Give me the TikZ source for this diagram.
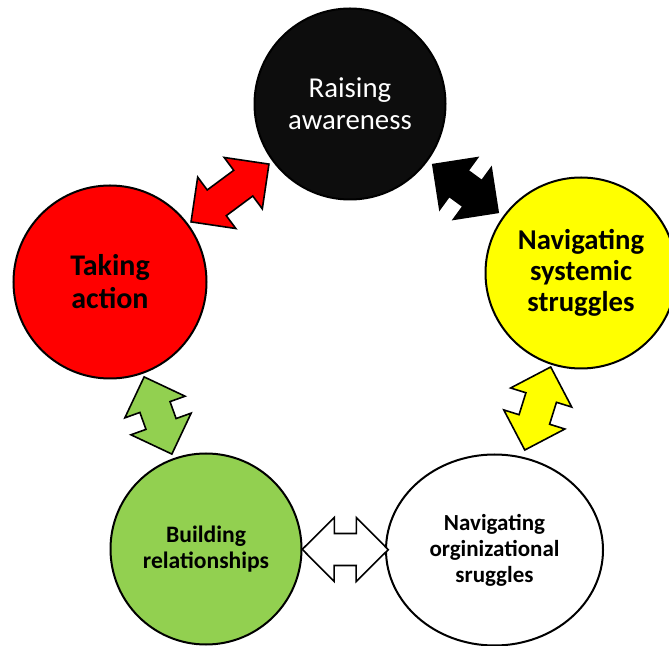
\documentclass[tikz,border=0pt]{standalone}
\usepackage{fontspec}
\setmainfont{Carlito}
\usetikzlibrary{calc,shapes.geometric}
\definecolor{awareblack}{HTML}{0D0D0D}
\definecolor{actionred}{HTML}{FF0000}
\definecolor{systemyellow}{HTML}{FFFF00}
\definecolor{relgreen}{HTML}{92D050}
\begin{document}
\begin{tikzpicture}[x=1pt,y=1pt,
  stage/.style={circle, draw=black, line width=2pt, minimum size=191pt,
    inner sep=0pt, align=center},
  arrowline/.style={draw=black, line width=1.6pt, line join=miter},
  % double-headed block arrow centred on the origin, pointing along x
  pics/dblarrow/.style 2 args={code={%
    \pgfmathsetmacro\dahalf{#1/2}%
    \pgfmathsetmacro\daneck{#1/2-32}%
    \draw[arrowline, fill=#2]
      (-\dahalf,0) -- (-\daneck,32) -- (-\daneck,16) -- (\daneck,16)
      -- (\daneck,32) -- (\dahalf,0) -- (\daneck,-32) -- (\daneck,-16)
      -- (-\daneck,-16) -- (-\daneck,-32) -- cycle;
  }}]
\useasboundingbox (0,0) rectangle (669,645);
\clip (0,0) rectangle (669,645);

% the five stages
\node[stage, fill=awareblack, text=white,
  font=\fontsize{28.8}{32}\selectfont] (aware) at (350,541) {Raising\\awareness};
\node[stage, fill=actionred, minimum size=193pt,
  font=\bfseries\fontsize{30}{33}\selectfont] (action) at (110,363) {Taking\\action};
\node[stage, fill=systemyellow,
  font=\bfseries\fontsize{28.7}{31}\selectfont] (systemic) at (581,372) {Navigating\\systemic\\struggles};
\node[stage, fill=relgreen,
  font=\bfseries\fontsize{23.6}{26}\selectfont] (relations) at (206,96) {Building\\relationships};
\node[stage, ellipse, minimum width=217pt, minimum height=191pt, fill=white,
  font=\bfseries\fontsize{23}{26}\selectfont] (orgs) at (494.5,95) {Navigating\\orginizational\\sruggles};

% links between neighbouring stages
\path let \p1=($(aware)-(action)$), \n1={atan2(\y1,\x1)} in
  ($(action)!0.5!(aware)$) pic[rotate=\n1] {dblarrow={97}{actionred}};
\path let \p1=($(systemic)-(aware)$), \n1={atan2(\y1,\x1)} in
  ($(aware)!0.5!(systemic)$) pic[rotate=\n1] {dblarrow={81}{black}};
\path let \p1=($(orgs)-(systemic)$), \n1={atan2(\y1,\x1)} in
  ($(systemic)!0.5!(orgs)+(0,3)$) pic[rotate=\n1] {dblarrow={87}{systemyellow}};
\path let \p1=($(action)-(relations)$), \n1={atan2(\y1,\x1)} in
  ($(relations)!0.5!(action)$) pic[rotate=\n1] {dblarrow={82}{relgreen}};
\path let \p1=($(orgs)-(relations)$), \n1={atan2(\y1,\x1)} in
  ($(relations)!0.5!(orgs)+(-5,0)$) pic[rotate=\n1] {dblarrow={86}{white}};
\end{tikzpicture}
\end{document}
